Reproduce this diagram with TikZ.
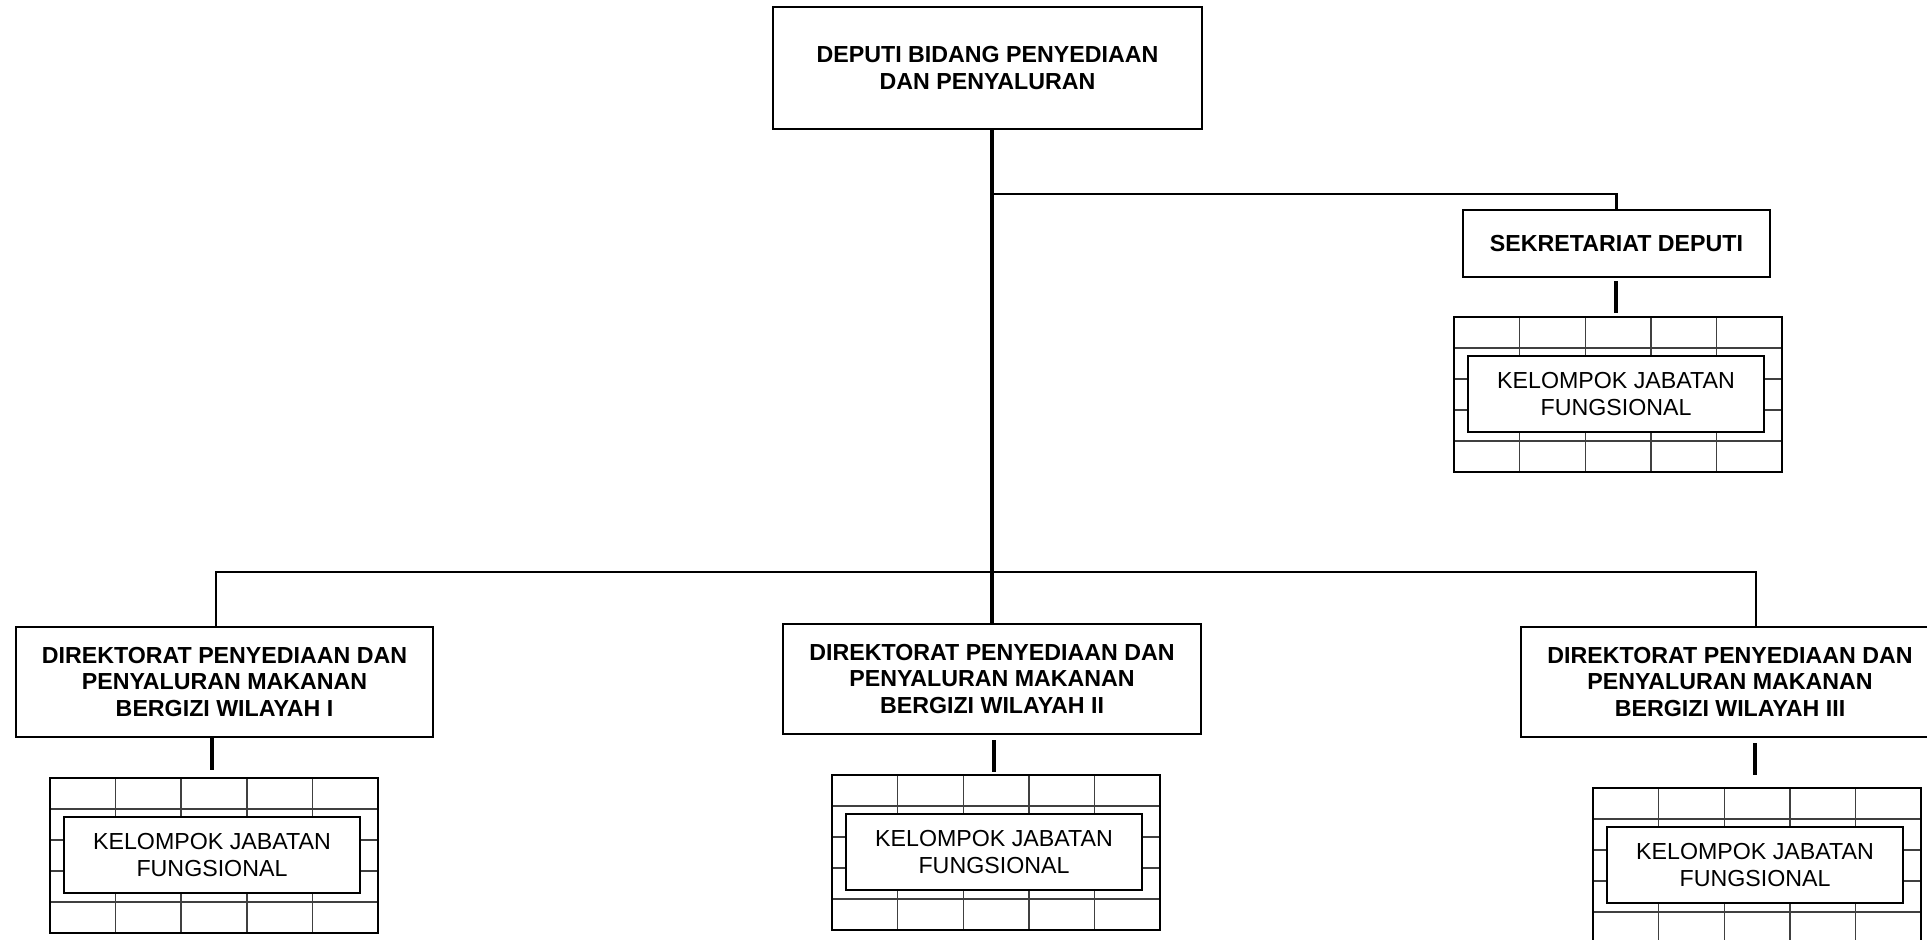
\documentclass[tikz,border=0pt]{standalone}
\usepackage{fontspec}
\setmainfont{Liberation Sans}
\usepackage{tikz}

\begin{document}
\begin{tikzpicture}[x=0.01cm, y=-0.01cm,
    unit/.style={draw, line width=0.6pt, align=center, inner sep=0pt,
      font=\bfseries\fontsize{6.6}{7.6}\selectfont},
    kjf/.style={draw, line width=0.6pt, fill=white, align=center, inner sep=0pt,
      minimum width=2.96cm, minimum height=0.76cm, font=\fontsize{6.6}{7.6}\selectfont},
    cell/.style={line width=0.4pt, black!75},
    link/.style={line width=0.6pt},
    trunk/.style={line width=1.4pt},
    stub/.style={line width=1.2pt}]
  \useasboundingbox (0,0) rectangle (1927,940);
  \clip (0,0) rectangle (1927,940);

  \node[unit, minimum width=4.29cm, minimum height=1.22cm] at (987.5,68) (deputi)
    {DEPUTI BIDANG PENYEDIAAN\\DAN PENYALURAN};
  \node[unit, minimum width=3.07cm, minimum height=0.67cm] at (1616.5,243.5) (sek)
    {SEKRETARIAT DEPUTI};
  \node[unit, minimum width=4.17cm, minimum height=1.10cm] at (224.5,682) (dir1)
    {DIREKTORAT PENYEDIAAN DAN\\PENYALURAN MAKANAN\\BERGIZI WILAYAH I};
  \node[unit, minimum width=4.18cm, minimum height=1.10cm] at (992,679) (dir2)
    {DIREKTORAT PENYEDIAAN DAN\\PENYALURAN MAKANAN\\BERGIZI WILAYAH II};
  \node[unit, minimum width=4.17cm, minimum height=1.10cm] at (1730,682) (dir3)
    {DIREKTORAT PENYEDIAAN DAN\\PENYALURAN MAKANAN\\BERGIZI WILAYAH III};

  % kelompok jabatan fungsional boxes over a 5x5 grid
  \foreach \gx/\gy/\nm in {50/778/kjf1, 832/775/kjf2, 1593/788/kjf3, 1454/317/kjfsek} {
    \foreach \k in {1,...,4} {
      \draw[cell] ({\gx+65.6*\k},\gy) -- ++(0,155);
      \draw[cell] (\gx,{\gy+31*\k}) -- ++(328,0);
    }
    \draw[link] (\gx,\gy) rectangle ++(328,155);
    \node[kjf] at ({\gx+162},{\gy+77}) (\nm) {KELOMPOK JABATAN\\FUNGSIONAL};
  }

  \coordinate (jsek) at (993,194);
  \coordinate (jdir) at (993,572);
  \draw[trunk] (dir2.north) -- (dir2.north |- deputi.south);
  \draw[link] (jsek) -| (sek.north);
  \draw[link] ([xshift=-0.085cm]dir1.north) |- (jdir) -| ([xshift=0.26cm]dir3.north);

  \draw[stub] (kjf1 |- dir1.south) -- ++(0,32);
  \draw[stub] ([yshift=-0.05cm]kjf2 |- dir2.south) -- ++(0,32);
  \draw[stub] ([yshift=-0.05cm]kjf3 |- dir3.south) -- ++(0,32);
  \draw[stub] ([yshift=-0.03cm]kjfsek |- sek.south) -- ++(0,32);
\end{tikzpicture}
\end{document}
